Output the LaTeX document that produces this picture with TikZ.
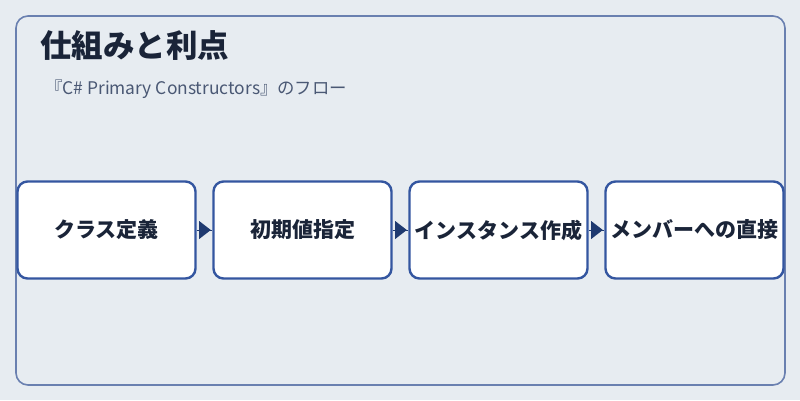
\documentclass[tikz,border=0pt]{standalone}
\usepackage{fontspec}
\setmainfont{Noto Sans CJK JP}
\usetikzlibrary{arrows.meta}
\definecolor{bg}{HTML}{E7ECF1}
\definecolor{frame}{HTML}{6A80B0}
\definecolor{boxline}{HTML}{3456A0}
\definecolor{ink}{HTML}{1A2438}
\definecolor{sub}{HTML}{4A5874}
\definecolor{arr}{HTML}{1F3A70}
\begin{document}
\begin{tikzpicture}[x=1pt,y=-1pt,
  stepbox/.style={draw=boxline,line width=2.4pt,fill=white,rounded corners=10pt,
    minimum width=178pt,minimum height=97pt,inner sep=0pt,
    font=\fontsize{21}{24}\selectfont\bfseries,text=ink},
  flowtip/.style={fill=arr}]
\fill[bg] (0,0) rectangle (800,400);
\useasboundingbox (0,0) rectangle (800,400);
\draw[frame,line width=1.6pt,rounded corners=12pt] (16,16) rectangle (785,385);
\node[anchor=west,font=\fontsize{31.5}{34}\selectfont\bfseries,text=ink,inner sep=0pt] (title) at (40,46) {仕組みと利点};
\node[anchor=west,font=\fontsize{17.4}{20}\selectfont,text=sub,inner sep=0pt] (subtitle) at (45,89) {『C\# Primary Constructors』のフロー};
\node[stepbox] (b1) at (106.5,230) {クラス定義};
\node[stepbox] (b2) at (302.5,230) {初期値指定};
\node[stepbox] (b3) at (498.5,230) {インスタンス作成};
\node[stepbox] (b4) at (694.5,230) {メンバーへの直接};
\foreach \a/\b in {b1/b2,b2/b3,b3/b4}{
  \draw[arr,line width=1pt] (\a.east) -- (\b.west);
  \fill[flowtip] ([shift={(2.5,-9)}]\a.east) -- ([shift={(2.5,9)}]\a.east) -- ([shift={(-1.5,0)}]\b.west) -- cycle;
}
\end{tikzpicture}
\end{document}
